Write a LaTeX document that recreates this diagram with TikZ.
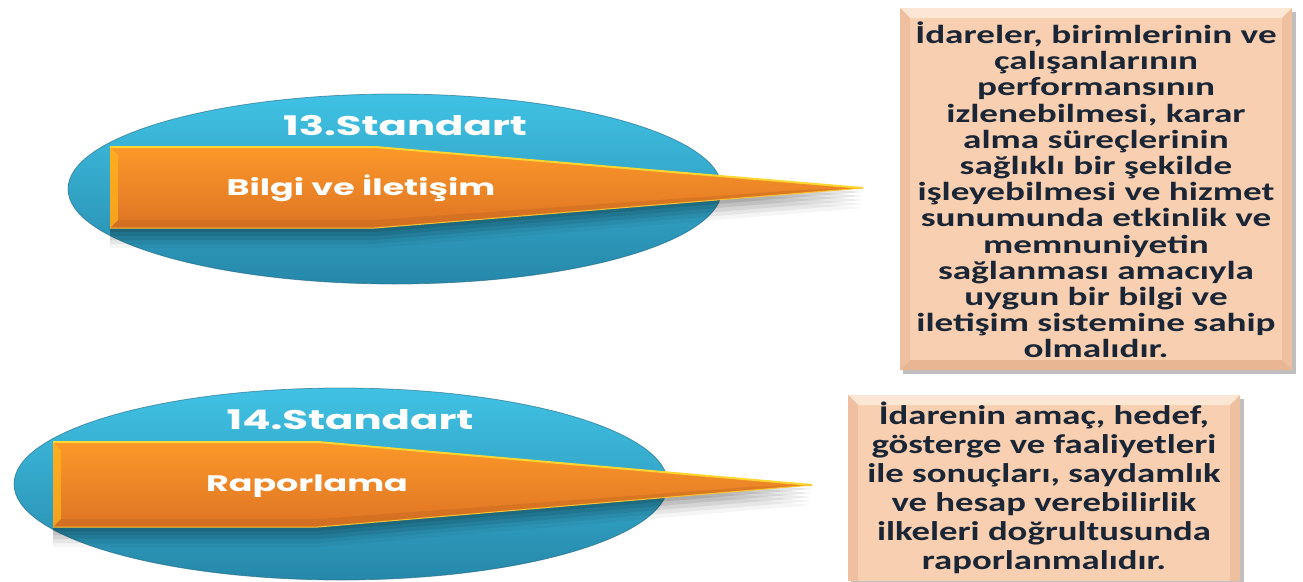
\documentclass[tikz,border=0pt]{standalone}
\usepackage{fontspec}
\newfontfamily\headfont[FakeStretch=1.55]{Poppins Bold}
\newfontfamily\boxfontA[FakeStretch=1.43]{Carlito Bold}
\newfontfamily\boxfontB[FakeStretch=1.36]{Carlito Bold}

\definecolor{cyanTop}{RGB}{64,194,228}
\definecolor{cyanBot}{RGB}{38,136,170}
\definecolor{cyanRim}{RGB}{30,100,125}
\definecolor{orangeTop}{RGB}{252,152,42}
\definecolor{orangeBot}{RGB}{222,116,36}
\definecolor{orangeEdge}{RGB}{255,214,48}
\definecolor{peach}{RGB}{248,207,176}
\definecolor{peachLight}{RGB}{252,231,213}
\definecolor{peachDark}{RGB}{233,182,148}
\definecolor{boxInk}{RGB}{26,38,54}

\tikzset{every picture/.style={line width=0.75pt}}
\tikzset{
  headtext/.style={text=white,font=\headfont\fontsize{27}{30}\selectfont},
  labeltext/.style={text=white,font=\headfont\fontsize{22.5}{26}\selectfont},
  boxtext/.style={text=boxInk,align=center,inner sep=0pt}
}

\begin{document}
\begin{tikzpicture}[x=1pt,y=1pt,yscale=-1,xscale=1]
\useasboundingbox (0,0) rectangle (1303,581);
\fill[white] (0,0) rectangle (1303,581);

%Shape: Ellipse [13]
\shade[top color=cyanTop,bottom color=cyanBot] (395,189) ellipse (327 and 95);
\draw[cyanRim,opacity=0.6] (395,189) ellipse (327 and 95);
%Shape: Ellipse [14]
\shade[top color=cyanTop,bottom color=cyanBot] (341,484) ellipse (327 and 96);
\draw[cyanRim,opacity=0.6] (341,484) ellipse (327 and 96);

%Shadow of the arrows
\foreach \d/\o in {4/0.10,8/0.09,12/0.08,16/0.06,20/0.04} {
  \fill[black,opacity=\o] (110,147+\d) -- (375,147+\d) -- (863,188+\d) -- (375,228+\d) -- (110,228+\d) -- cycle;
  \fill[black,opacity=\o] (53,442+\d) -- (318,442+\d) -- (812,485+\d) -- (318,527+\d) -- (53,527+\d) -- cycle;
}

%Shape: Arrow [13]
\shade[top color=orangeTop,bottom color=orangeBot] (110,147) -- (375,147) -- (863,188) -- (375,228) -- (110,228) -- cycle;
\fill[orangeTop!70!yellow,opacity=0.7] (110,147) -- (118,155) -- (118,220) -- (110,228) -- cycle;
\fill[orangeBot!85!black,opacity=0.35] (110,228) -- (118,220) -- (375,220) -- (800,190) -- (863,188) -- (375,228) -- cycle;
\draw[orangeEdge,line width=2pt] (110,147) -- (375,147) -- (863,188);
\draw[orangeEdge!70!orangeTop,line width=1pt] (863,188) -- (375,228) -- (110,228);
%Shape: Arrow [14]
\shade[top color=orangeTop,bottom color=orangeBot] (53,442) -- (318,442) -- (812,485) -- (318,527) -- (53,527) -- cycle;
\fill[orangeTop!70!yellow,opacity=0.7] (53,442) -- (61,450) -- (61,519) -- (53,527) -- cycle;
\fill[orangeBot!85!black,opacity=0.35] (53,527) -- (61,519) -- (318,519) -- (750,487) -- (812,485) -- (318,527) -- cycle;
\draw[orangeEdge,line width=2pt] (53,442) -- (318,442) -- (812,485);
\draw[orangeEdge!70!orangeTop,line width=1pt] (812,485) -- (318,527) -- (53,527);

%Shape: Box [13]
\fill[black,opacity=0.25] (903,12) rectangle (1296,374);
\fill[peach] (900,8) rectangle (1292,370);
\fill[peachLight] (900,8) -- (1292,8) -- (1282,18) -- (910,18) -- cycle;
\fill[peachDark!60!peach] (900,8) -- (910,18) -- (910,360) -- (900,370) -- cycle;
\fill[peachDark!60!peach] (1292,8) -- (1282,18) -- (1282,360) -- (1292,370) -- cycle;
\fill[peachDark] (900,370) -- (910,360) -- (1282,360) -- (1292,370) -- cycle;
%Shape: Box [14]
\fill[black,opacity=0.25] (851,399) rectangle (1244,584);
\fill[peach] (848,395) rectangle (1240,581);
\fill[peachLight] (848,395) -- (1240,395) -- (1230,405) -- (858,405) -- cycle;
\fill[peachDark!60!peach] (848,395) -- (858,405) -- (858,581) -- (848,581) -- cycle;
\fill[peachDark!60!peach] (1240,395) -- (1230,405) -- (1230,581) -- (1240,581) -- cycle;

% Text Node
\node[headtext] (std13) at (405,126) {13.Standart};
% Text Node
\node[labeltext] (bilgi) at (361,188) {Bilgi ve İletişim};
% Text Node
\node[headtext] (std14) at (350,420) {14.Standart};
% Text Node
\node[labeltext] (rapor) at (307,486) {Raporlama};
% Text Node
\node[boxtext,font=\boxfontA\fontsize{26}{26.2}\selectfont] (desc13) at (1096,190) {İdareler, birimlerinin ve\\ çalışanlarının\\ performansının\\ izlenebilmesi, karar\\ alma süreçlerinin\\ sağlıklı bir şekilde\\ işleyebilmesi ve hizmet\\ sunumunda etkinlik ve\\ memnuniyetin\\ sağlanması amacıyla\\ uygun bir bilgi ve\\ iletişim sistemine sahip\\ olmalıdır.};
% Text Node
\node[boxtext,font=\boxfontB\fontsize{27}{29}\selectfont] (desc14) at (1044,488) {İdarenin amaç, hedef,\\ gösterge ve faaliyetleri\\ ile sonuçları, saydamlık\\ ve hesap verebilirlik\\ ilkeleri doğrultusunda\\ raporlanmalıdır.};

\end{tikzpicture}
\end{document}
